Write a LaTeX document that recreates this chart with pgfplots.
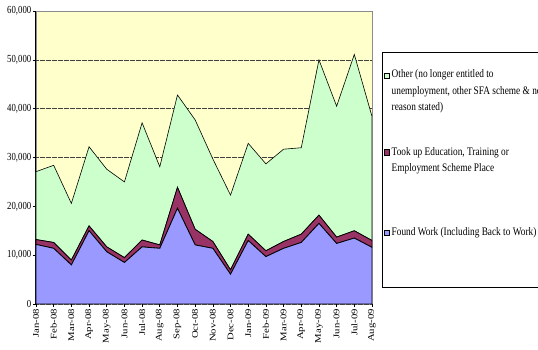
\documentclass[border=0pt]{standalone}
\usepackage{pgfplots}
\pgfplotsset{compat=1.18}
\usepackage{fontspec}
\usepackage{graphicx}
\setmainfont{Liberation Serif}
\newfontfamily\narrowserif[FakeStretch=0.81]{Liberation Serif}
\definecolor{foundblue}{RGB}{153,153,255}
\definecolor{eduplum}{RGB}{153,51,102}
\definecolor{othergreen}{RGB}{204,255,204}
\definecolor{paneyellow}{RGB}{255,255,204}
% month labels are squeezed across their height, like the rest of the text
\newcommand\sx[1]{\scalebox{1}[0.81]{#1}}
\newcommand\legfont{\narrowserif\fontsize{11.5pt}{16.3pt}\selectfont}

\begin{document}
\begin{tikzpicture}[x=1pt,y=1pt]
\useasboundingbox (0,0) rectangle (538,350);
\begin{axis}[
  at={(36pt,46pt)}, anchor=south west,
  scale only axis, width=336pt, height=293pt,
  xmin=0, xmax=19, ymin=0, ymax=60000,
  stack plots=y,
  axis lines*=left,
  axis line style={black, line width=1pt},
  axis background/.style={fill=paneyellow, draw=black!45, line width=0.6pt},
  ymajorgrids,
  major grid style={black!75, line width=0.6pt, dash pattern=on 0.6pt off 0.6pt},
  ytick={0,10000,...,60000},
  scaled y ticks=false,
  /pgf/number format/1000 sep={,},
  /pgf/number format/assume math mode=true,
  tick align=outside,
  major tick length=3pt,
  tick style={black, line width=0.6pt},
  yticklabel style={font=\narrowserif\fontsize{10.8pt}{12pt}\selectfont, inner sep=1.5pt},
  xtick={0,...,19},
  xticklabels={\sx{Jan-08},\sx{Feb-08},\sx{Mar-08},\sx{Apr-08},\sx{May-08},\sx{Jun-08},\sx{Jul-08},\sx{Aug-08},\sx{Sep-08},\sx{Oct-08},\sx{Nov-08},\sx{Dec-08},\sx{Jan-09},\sx{Feb-09},\sx{Mar-09},\sx{Apr-09},\sx{May-09},\sx{Jun-09},\sx{Jul-09},\sx{Aug-09}},
  xticklabel style={rotate=90, anchor=east, font=\fontsize{10.7pt}{12pt}\selectfont, inner sep=2pt},
]
% Found Work (Including Back to Work)
\addplot[fill=foundblue, draw=black, line width=0.8pt] coordinates {
  (0,12200) (1,11400) (2,8000) (3,15000) (4,10700) (5,8500) (6,11700) (7,11400)
  (8,19600) (9,12100) (10,11400) (11,6100) (12,13000) (13,9700) (14,11400)
  (15,12600) (16,16500) (17,12400) (18,13500) (19,11600)} \closedcycle;
% Took up Education, Training or Employment Scheme Place
\addplot[fill=eduplum, draw=black, line width=0.8pt] coordinates {
  (0,1000) (1,1200) (2,1000) (3,1000) (4,1000) (5,1000) (6,1400) (7,700)
  (8,4300) (9,3200) (10,1400) (11,900) (12,1300) (13,1200) (14,1400)
  (15,1700) (16,1700) (17,1300) (18,1500) (19,1400)} \closedcycle;
% Other
\addplot[fill=othergreen, draw=black, line width=0.6pt] coordinates {
  (0,13900) (1,15800) (2,11600) (3,16200) (4,15900) (5,15500) (6,24000) (7,16000)
  (8,18900) (9,22400) (10,16900) (11,15300) (12,18600) (13,17800) (14,18900)
  (15,17700) (16,31800) (17,26800) (18,36100) (19,25400)} \closedcycle;
% plot-area frame on the top and right
\draw[black!45, line width=0.8pt] (rel axis cs:0,1) -- (rel axis cs:1,1) -- (rel axis cs:1,0);
\end{axis}

% legend
\draw[black, line width=1pt, fill=white] (382,297) rectangle (570,62);
\draw[black, line width=0.5pt, fill=othergreen] (383.8,271.5) rectangle (389.3,277);
\draw[black, line width=0.5pt, fill=eduplum] (383.8,194.8) rectangle (389.3,200.3);
\draw[black, line width=0.5pt, fill=foundblue] (383.8,114.6) rectangle (389.3,120.1);
\begin{scope}[every node/.style={anchor=base west, inner sep=0pt, font=\legfont}]
\node at (391.5,272) {Other (no longer entitled to};
\node at (391.5,255.7) {unemployment, other SFA scheme \& no};
\node at (391.5,239.4) {reason stated)};
\node at (391.5,194.3) {Took up Education, Training or};
\node at (391.5,178.3) {Employment Scheme Place};
\node at (391.5,114.3) {Found Work (Including Back to Work)};
\end{scope}
\end{tikzpicture}
\end{document}
